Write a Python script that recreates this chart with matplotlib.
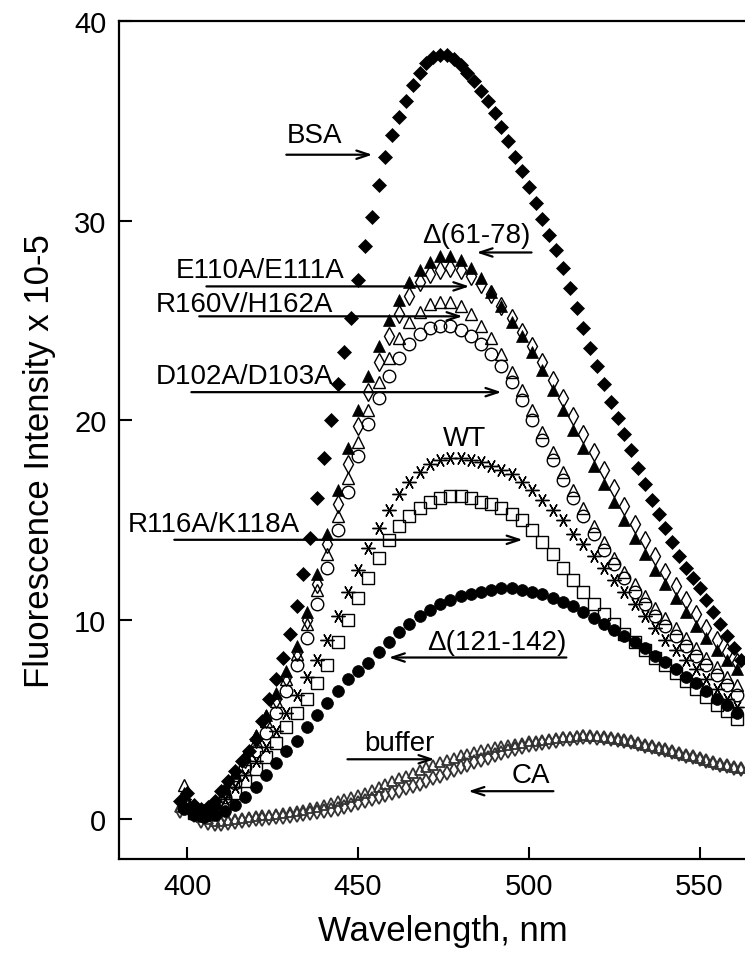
import numpy as np
import matplotlib
matplotlib.use('Agg')
import matplotlib.pyplot as plt

plt.rcParams['font.family'] = ['Liberation Sans', 'DejaVu Sans']

# ── Data ───────────────────────────────────────────────────────────────────
# BSA and buffer/CA sampled every 2 nm, mutants every 3 nm
wl_2nm = np.arange(398, 563, 2)
wl_3nm = np.arange(399, 562, 3)

bsa = [0.9, 1.3, 0.7, 0.5, 0.6, 0.9, 1.4, 1.9, 2.4, 2.9,
       3.4, 4.0, 4.9, 6.0, 7.0, 8.1, 9.3, 10.7, 12.3, 14.1,
       16.1, 18.1, 20.0, 21.8, 23.4, 25.1, 27.0, 28.7, 30.2, 31.8,
       33.2, 34.3, 35.2, 36.0, 36.8, 37.4, 37.9, 38.2, 38.3, 38.3,
       38.1, 37.8, 37.4, 37.0, 36.5, 36.0, 35.4, 34.7, 34.0, 33.2,
       32.5, 31.7, 30.9, 30.1, 29.3, 28.5, 27.6, 26.6, 25.6, 24.6,
       23.6, 22.7, 21.8, 20.9, 20.1, 19.3, 18.5, 17.6, 16.8, 16.0,
       15.3, 14.6, 13.9, 13.2, 12.6, 12.1, 11.6, 11.0, 10.4, 9.8,
       9.2, 8.6, 8.0]

buffer = [0.6, 0.9, 0.4, 0.1, 0.0, -0.1, -0.1, -0.05, 0.0, 0.05,
          0.1, 0.15, 0.2, 0.22, 0.25, 0.3, 0.35, 0.4, 0.47, 0.55,
          0.62, 0.7, 0.8, 0.9, 1.0, 1.1, 1.2, 1.33, 1.46, 1.6,
          1.75, 1.9, 2.04, 2.18, 2.32, 2.46, 2.6, 2.72, 2.84, 2.96,
          3.08, 3.2, 3.28, 3.36, 3.44, 3.52, 3.6, 3.66, 3.72, 3.78,
          3.84, 3.9, 3.94, 3.98, 4.02, 4.06, 4.1, 4.14, 4.18, 4.2,
          4.18, 4.15, 4.1, 4.05, 4.0, 3.95, 3.9, 3.82, 3.74, 3.66,
          3.58, 3.5, 3.41, 3.32, 3.23, 3.14, 3.05, 2.96, 2.87, 2.78,
          2.69, 2.6, 2.55]

ca = [0.4, 0.7, 0.2, -0.1, -0.2, -0.25, -0.25, -0.2, -0.15, -0.1,
      -0.05, 0.0, 0.03, 0.06, 0.1, 0.13, 0.16, 0.2, 0.25, 0.3,
      0.35, 0.4, 0.46, 0.53, 0.6, 0.7, 0.8, 0.9, 1.0, 1.1,
      1.2, 1.3, 1.42, 1.54, 1.66, 1.78, 1.9, 2.04, 2.18, 2.32,
      2.46, 2.6, 2.72, 2.84, 2.96, 3.08, 3.2, 3.3, 3.4, 3.5,
      3.6, 3.7, 3.76, 3.82, 3.88, 3.94, 4.0, 4.04, 4.08, 4.1,
      4.1, 4.08, 4.05, 4.0, 3.95, 3.9, 3.85, 3.77, 3.69, 3.61,
      3.53, 3.45, 3.36, 3.27, 3.18, 3.09, 3.0, 2.91, 2.82, 2.73,
      2.64, 2.55, 2.5]

d61_78 = [1.3, 0.5, 0.3, 0.8, 1.5, 2.3, 3.2, 4.2, 5.2, 6.3,
          7.4, 8.7, 10.4, 12.3, 14.3, 16.5, 18.6, 20.5, 22.2, 23.7,
          25.0, 26.0, 26.9, 27.5, 27.9, 28.2, 28.2, 28.0, 27.6, 27.1,
          26.4, 25.7, 24.9, 24.2, 23.4, 22.5, 21.5, 20.5, 19.5, 18.6,
          17.7, 16.8, 15.9, 15.0, 14.1, 13.3, 12.5, 11.8, 11.1, 10.4,
          9.7, 9.1, 8.5, 8.0, 7.5]

e110a = [0.9, 0.4, 0.3, 0.7, 1.4, 2.1, 3.0, 4.0, 5.0, 6.0,
         7.1, 8.4, 10.0, 11.8, 13.8, 15.8, 17.8, 19.7, 21.4, 22.9,
         24.2, 25.3, 26.2, 26.9, 27.3, 27.5, 27.6, 27.5, 27.2, 26.8,
         26.3, 25.7, 25.1, 24.4, 23.7, 22.9, 22.0, 21.1, 20.2, 19.3,
         18.4, 17.5, 16.6, 15.7, 14.8, 14.0, 13.2, 12.4, 11.7, 11.0,
         10.3, 9.6, 9.0, 8.4, 7.9]

r160v = [1.7, 0.6, 0.3, 0.7, 1.4, 2.2, 3.0, 3.9, 4.9, 5.9,
         7.0, 8.3, 9.8, 11.5, 13.3, 15.2, 17.1, 18.9, 20.5, 21.9,
         23.1, 24.1, 24.9, 25.4, 25.8, 25.9, 25.9, 25.7, 25.3, 24.7,
         24.1, 23.3, 22.4, 21.5, 20.5, 19.4, 18.4, 17.4, 16.5, 15.6,
         14.7, 13.9, 13.1, 12.4, 11.8, 11.2, 10.6, 10.1, 9.6, 9.1,
         8.6, 8.1, 7.6, 7.1, 6.7]

d102a = [0.8, 0.3, 0.2, 0.5, 1.1, 1.8, 2.6, 3.4, 4.3, 5.3,
         6.4, 7.7, 9.1, 10.8, 12.6, 14.5, 16.4, 18.2, 19.8, 21.1,
         22.2, 23.1, 23.8, 24.3, 24.6, 24.7, 24.7, 24.5, 24.2, 23.8,
         23.3, 22.7, 21.9, 21.0, 20.0, 19.0, 18.0, 17.0, 16.1, 15.2,
         14.3, 13.5, 12.8, 12.1, 11.4, 10.8, 10.2, 9.7, 9.2, 8.7,
         8.2, 7.7, 7.2, 6.7, 6.2]

wt = [1.0, 0.4, 0.2, 0.5, 1.0, 1.6, 2.2, 2.9, 3.6, 4.4,
      5.3, 6.2, 7.1, 8.0, 9.0, 10.2, 11.4, 12.5, 13.6, 14.6,
      15.5, 16.3, 16.9, 17.4, 17.8, 18.0, 18.1, 18.1, 18.0, 17.9,
      17.7, 17.5, 17.3, 16.9, 16.5, 16.0, 15.5, 15.0, 14.3, 13.8,
      13.2, 12.6, 12.0, 11.4, 10.8, 10.2, 9.6, 9.0, 8.5, 8.0,
      7.5, 7.0, 6.5, 6.0, 5.6]

r116a = [0.7, 0.3, 0.2, 0.4, 0.8, 1.3, 1.9, 2.5, 3.1, 3.8,
         4.6, 5.3, 6.0, 6.8, 7.7, 8.9, 10.0, 11.1, 12.1, 13.1,
         14.0, 14.7, 15.2, 15.6, 15.9, 16.1, 16.2, 16.2, 16.1, 15.9,
         15.8, 15.6, 15.3, 15.0, 14.5, 13.9, 13.3, 12.6, 12.0, 11.4,
         10.8, 10.3, 9.8, 9.3, 8.9, 8.5, 8.1, 7.7, 7.3, 6.9,
         6.5, 6.1, 5.7, 5.4, 5.0]

d121_142 = [0.5, 0.2, 0.1, 0.2, 0.4, 0.7, 1.1, 1.6, 2.2, 2.8,
            3.4, 3.9, 4.6, 5.2, 5.8, 6.4, 7.0, 7.4, 7.8, 8.4,
            8.9, 9.4, 9.8, 10.2, 10.5, 10.8, 11.0, 11.2, 11.3, 11.4,
            11.5, 11.6, 11.6, 11.5, 11.4, 11.3, 11.1, 10.9, 10.7, 10.4,
            10.1, 9.8, 9.5, 9.2, 8.9, 8.6, 8.2, 7.9, 7.5, 7.1,
            6.8, 6.4, 6.0, 5.7, 5.3]

# ── Figure ─────────────────────────────────────────────────────────────────
fig = plt.figure(figsize=(7.45, 9.54), dpi=100)
ax = fig.add_axes([0.1597, 0.0985, 0.8403, 0.8784])

open_kw = dict(ls='none', mfc='none', mec='k', mew=1.0)
fill_kw = dict(ls='none', mfc='k', mec='k', mew=0.5)
band_kw = dict(ls='none', mfc='none', mec='0.2', mew=1.3, ms=7)

ax.plot(wl_2nm, buffer, marker='^', **band_kw)
ax.plot(wl_2nm, ca, marker='d', **band_kw)
ax.plot(wl_3nm, d121_142, marker='o', ms=8.5, **fill_kw)
ax.plot(wl_3nm, r116a, marker='s', ms=8, **open_kw)
ax.plot(wl_3nm, wt, marker=(6, 2, 90), ms=10, ls='none', mec='k', mew=1.0)
ax.plot(wl_3nm, d102a, marker='o', ms=9, **open_kw)
ax.plot(wl_3nm, r160v, marker='^', ms=9, **open_kw)
ax.plot(wl_3nm, e110a, marker='d', ms=9, **open_kw)
ax.plot(wl_3nm, d61_78, marker='^', ms=9, **fill_kw)
ax.plot(wl_2nm, bsa, marker='D', ms=7.5, **fill_kw)

# ── Labels with arrows ─────────────────────────────────────────────────────
arrow = dict(arrowstyle='->,head_length=0.9,head_width=0.3', lw=1.6, color='k',
             shrinkA=0, shrinkB=0)
lab_fs = 20

ax.text(437.2, 34.3, 'BSA', fontsize=lab_fs, ha='center', va='center')
ax.annotate('', xy=(454.2, 33.3), xytext=(429, 33.3), arrowprops=arrow)

ax.text(484.7, 29.3, 'Δ(61-78)', fontsize=lab_fs, ha='center', va='center')
ax.annotate('', xy=(484.7, 28.4), xytext=(500.8, 28.4), arrowprops=arrow)

ax.text(421.2, 27.5, 'E110A/E111A', fontsize=lab_fs, ha='center', va='center')
ax.annotate('', xy=(482.6, 26.7), xytext=(405.6, 26.7), arrowprops=arrow)

ax.text(416.7, 25.8, 'R160V/H162A', fontsize=lab_fs, ha='center', va='center')
ax.annotate('', xy=(480.6, 25.2), xytext=(403.5, 25.2), arrowprops=arrow)

ax.text(416.7, 22.2, 'D102A/D103A', fontsize=lab_fs, ha='center', va='center')
ax.annotate('', xy=(492.0, 21.4), xytext=(401.2, 21.4), arrowprops=arrow)

ax.text(481.2, 19.1, 'WT', fontsize=lab_fs, ha='center', va='center')

ax.text(407.9, 14.8, 'R116A/K118A', fontsize=lab_fs, ha='center', va='center')
ax.annotate('', xy=(498.2, 14.0), xytext=(396.2, 14.0), arrowprops=arrow)

ax.text(490.7, 8.9, 'Δ(121-142)', fontsize=lab_fs, ha='center', va='center')
ax.annotate('', xy=(459.0, 8.1), xytext=(511.0, 8.1), arrowprops=arrow)

ax.text(462.1, 3.8, 'buffer', fontsize=lab_fs, ha='center', va='center')
ax.annotate('', xy=(472.4, 3.0), xytext=(446.9, 3.0), arrowprops=arrow)

ax.text(500.5, 2.2, 'CA', fontsize=lab_fs, ha='center', va='center')
ax.annotate('', xy=(482.3, 1.4), xytext=(507.2, 1.4), arrowprops=arrow)

# ── Axes styling ───────────────────────────────────────────────────────────
ax.set_xlim(380, 563.3)
ax.set_ylim(-2, 40)
ax.set_xticks([400, 450, 500, 550])
ax.set_yticks([0, 10, 20, 30, 40])
ax.tick_params(direction='in', length=9, width=1.5, labelsize=21, pad=9)
ax.spines['right'].set_visible(False)
for s in ('left', 'top', 'bottom'):
    ax.spines[s].set_linewidth(1.6)

ax.set_xlabel('Wavelength, nm', fontsize=25)
ax.xaxis.set_label_coords(0.5176, -0.066)
ax.set_ylabel('Fluorescence Intensity x 10-5', fontsize=25)
ax.yaxis.set_label_coords(-0.10, 0.476)

plt.savefig('out.png', dpi=100)
